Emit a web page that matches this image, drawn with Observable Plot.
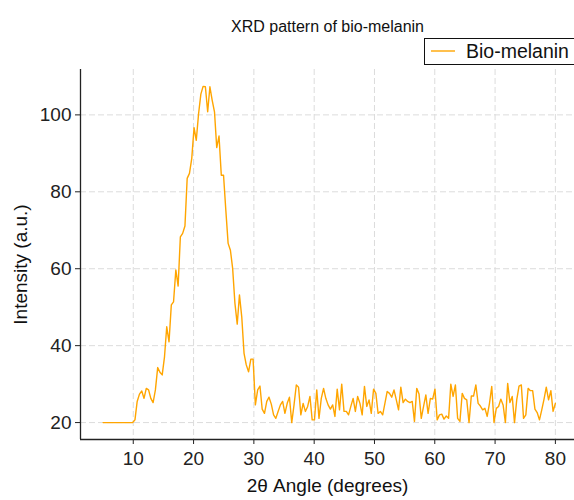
<!DOCTYPE html>
<html>
<head>
<meta charset="utf-8">
<script src="https://cdn.jsdelivr.net/npm/d3@7"></script>
<script src="https://cdn.jsdelivr.net/npm/@observablehq/plot@0.6"></script>
<style>
  html, body { margin: 0; padding: 0; background: #fff; }
  #chart svg { display: block; overflow: hidden; }
</style>
</head>
<body>
<div id="chart"></div>
<script>
const title = "XRD pattern of bio-melanin";
const xLabel = "2θ Angle (degrees)";
const yLabel = "Intensity (a.u.)";
const seriesName = "Bio-melanin";
const xTicks = [10, 20, 30, 40, 50, 60, 70, 80];
const yTicks = [20, 40, 60, 80, 100];
const xDomain = [1.25, 83.17];
const yDomain = [15.6, 111.8];

const angle = [
  5.00, 5.38, 5.75, 6.13, 6.51, 6.88, 7.26, 7.64, 8.02, 8.39,
  8.77, 9.15, 9.52, 9.90, 10.28, 10.65, 11.03, 11.41, 11.78, 12.16,
  12.54, 12.91, 13.29, 13.67, 14.05, 14.42, 14.80, 15.18, 15.55, 15.93,
  16.31, 16.68, 17.06, 17.44, 17.81, 18.19, 18.57, 18.94, 19.32, 19.70,
  20.08, 20.45, 20.83, 21.21, 21.58, 21.96, 22.34, 22.71, 23.09, 23.47,
  23.84, 24.22, 24.60, 24.97, 25.35, 25.73, 26.11, 26.48, 26.86, 27.24,
  27.61, 27.99, 28.37, 28.74, 29.12, 29.50, 29.87, 30.25, 30.63, 31.01,
  31.38, 31.76, 32.14, 32.51, 32.89, 33.27, 33.64, 34.02, 34.40, 34.77,
  35.15, 35.53, 35.90, 36.28, 36.66, 37.04, 37.41, 37.79, 38.17, 38.54,
  38.92, 39.30, 39.67, 40.05, 40.43, 40.80, 41.18, 41.56, 41.93, 42.31,
  42.69, 43.07, 43.44, 43.82, 44.20, 44.57, 44.95, 45.33, 45.70, 46.08,
  46.46, 46.83, 47.21, 47.59, 47.96, 48.34, 48.72, 49.10, 49.47, 49.85,
  50.23, 50.60, 50.98, 51.36, 51.73, 52.11, 52.49, 52.86, 53.24, 53.62,
  53.99, 54.37, 54.75, 55.13, 55.50, 55.88, 56.26, 56.63, 57.01, 57.39,
  57.76, 58.14, 58.52, 58.89, 59.27, 59.65, 60.03, 60.40, 60.78, 61.16,
  61.53, 61.91, 62.29, 62.66, 63.04, 63.42, 63.79, 64.17, 64.55, 64.92,
  65.30, 65.68, 66.06, 66.43, 66.81, 67.19, 67.56, 67.94, 68.32, 68.69,
  69.07, 69.45, 69.82, 70.20, 70.58, 70.95, 71.33, 71.71, 72.09, 72.46,
  72.84, 73.22, 73.59, 73.97, 74.35, 74.72, 75.10, 75.48, 75.85, 76.23,
  76.61, 76.98, 77.36, 77.74, 78.12, 78.49, 78.87, 79.25, 79.62, 80.00
];

const intensity = [
  20, 20, 20, 20, 20, 20, 20, 20, 20, 20,
  20, 20, 20, 20, 20.7, 25.5, 27.4, 28.2, 26.3, 28.9,
  28.5, 26.3, 25.2, 28.5, 34.3, 33.1, 32.4, 37.1, 44.9, 41.0,
  50.6, 51.4, 59.7, 55.5, 68.3, 69.2, 71.1, 83.5, 84.8, 88.7,
  96.7, 93.4, 100.3, 105.4, 107.4, 107.3, 100.8, 107.3, 103.8, 100.8,
  91.5, 94.5, 84.3, 84.3, 75.2, 66.6, 64.8, 60.1, 51.0, 45.6,
  53.2, 47.5, 38.0, 35.0, 33.2, 36.5, 36.5, 24.6, 28.5, 29.5,
  23.5, 22.4, 25.5, 26.6, 24.8, 22.0, 21.1, 22.9, 24.6, 25.5,
  22.4, 25.0, 26.6, 20.0, 24.6, 29.8, 29.2, 22.0, 25.0, 22.9,
  24.2, 26.8, 20.7, 20.7, 28.5, 21.1, 26.3, 28.9, 26.3, 24.6,
  23.5, 24.6, 21.6, 28.7, 23.3, 30.0, 22.9, 22.9, 22.0, 24.2,
  26.3, 22.9, 26.8, 25.0, 22.0, 29.4, 24.2, 25.9, 22.4, 28.7,
  27.6, 22.4, 22.9, 22.0, 25.0, 28.1, 27.6, 26.6, 28.5, 25.9,
  23.3, 29.2, 25.2, 26.1, 25.5, 25.2, 25.5, 20.3, 28.9, 27.4,
  21.1, 24.2, 27.2, 22.4, 26.3, 26.1, 28.7, 20.7, 22.0, 22.2,
  20.9, 21.7, 21.1, 30.0, 26.8, 29.8, 21.1, 20.3, 27.6, 26.3,
  25.9, 20.0, 26.9, 26.9, 29.8, 25.0, 24.3, 23.3, 23.7, 21.6,
  25.0, 29.4, 20.0, 23.7, 24.2, 26.1, 24.6, 20.0, 30.2, 25.2,
  26.8, 20.0, 25.9, 29.5, 29.8, 21.1, 22.0, 28.9, 28.3, 28.3,
  23.5, 22.6, 20.7, 23.3, 26.1, 29.2, 25.9, 28.3, 22.9, 25.0
];

const n = Math.min(angle.length, intensity.length);
const data = Array.from({length: n}, (_, i) => ({angle: angle[i], intensity: intensity[i]}));

const lineColor = "#FFA500";
const font = "'Liberation Sans', Arial, Helvetica, sans-serif";

const chart = Plot.plot({
  width: 574,
  height: 500,
  marginLeft: 80,
  marginRight: 0,
  marginTop: 69,
  marginBottom: 61,
  style: {fontFamily: font, fontSize: "19px", color: "#222", background: "#fff", overflow: "hidden"},
  x: {domain: xDomain, ticks: xTicks},
  y: {domain: yDomain, ticks: yTicks},
  marks: [
    Plot.gridX(xTicks, {stroke: "#dcdcdc", strokeOpacity: 1, strokeDasharray: "6,3", strokeWidth: 1}),
    Plot.gridY(yTicks, {stroke: "#dcdcdc", strokeOpacity: 1, strokeDasharray: "6,3", strokeWidth: 1}),
    Plot.axisX(xTicks, {tickSize: 5, tickPadding: 7, label: null, fontSize: 19, stroke: "#222"}),
    Plot.axisY(yTicks, {tickSize: 5, tickPadding: 4, label: null, fontSize: 19, stroke: "#222"}),
    Plot.ruleX([xDomain[0]], {stroke: "#222", strokeWidth: 1.3}),
    Plot.ruleY([yDomain[0]], {stroke: "#222", strokeWidth: 1.3}),
    Plot.line(data, {x: "angle", y: "intensity", stroke: lineColor, strokeWidth: 1.4}),
    Plot.text([title], {frameAnchor: "top", dy: -49, fontSize: 16, fill: "#111", textAnchor: "middle"}),
    Plot.text([xLabel], {frameAnchor: "bottom", dy: 52, fontSize: 19, fill: "#111", textAnchor: "middle"}),
    Plot.text([yLabel], {frameAnchor: "left", dx: -60, dy: 10, rotate: -90, fontSize: 19, fill: "#111", textAnchor: "middle"})
  ]
});

document.getElementById("chart").appendChild(chart);

// legend (upper right, above the frame)
const svg = d3.select(chart);
const lg = svg.append("g").attr("font-family", font).attr("text-anchor", "start");
lg.append("rect").attr("x", 424.5).attr("y", 38.5).attr("width", 160).attr("height", 26)
  .attr("fill", "#fff").attr("stroke", "#111").attr("stroke-width", 1);
lg.append("line").attr("x1", 431).attr("x2", 455).attr("y1", 51).attr("y2", 51)
  .attr("stroke", lineColor).attr("stroke-width", 1.4);
lg.append("text").attr("x", 466).attr("y", 58).attr("font-size", 19.5).attr("fill", "#111")
  .attr("text-anchor", "start").text(seriesName);
</script>
</body>
</html>
